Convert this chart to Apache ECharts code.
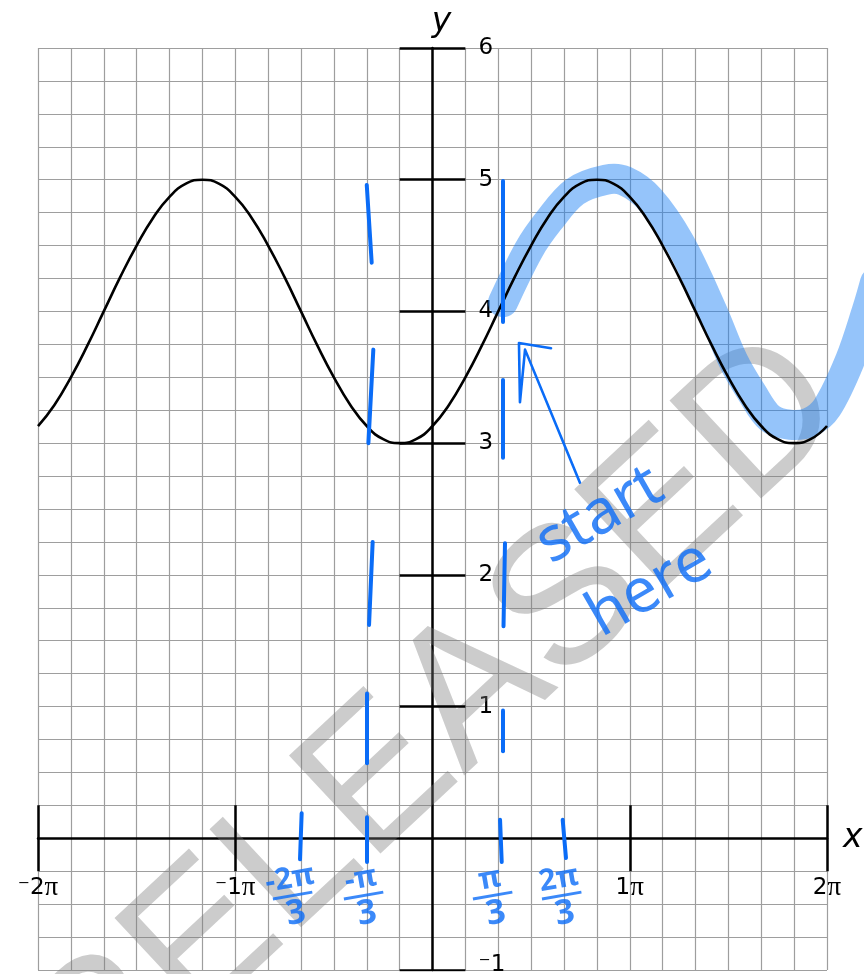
<!DOCTYPE html>
<html>
<head>
<meta charset="utf-8">
<script src="https://cdn.jsdelivr.net/npm/echarts@6/dist/echarts.min.js"></script>
<style>
  html, body { margin: 0; padding: 0; background: #ffffff; }
  #chart { width: 864px; height: 974px; }
</style>
</head>
<body>
<div id="chart"></div>
<script>
// Horizontal values are measured in twelfths of π (x = k·π/12).
const curveX = [-24,-23,-22,-21,-20,-19,-18,-17,-16,-15,-14,-13,-12,-11,-10,-9,-8,-7,-6,-5,-4,-3,-2,-1,
                0,1,2,3,4,5,6,7,8,9,10,11,12,13,14,15,16,17,18,19,20,21,22,23,24];
const curveY = [3.13,3.29,3.5,3.74,4,4.26,4.5,4.71,4.87,4.97,5,4.97,4.87,4.71,4.5,4.26,4,3.74,3.5,3.29,3.13,3.03,3,3.03,
                3.13,3.29,3.5,3.74,4,4.26,4.5,4.71,4.87,4.97,5,4.97,4.87,4.71,4.5,4.26,4,3.74,3.5,3.29,3.13,3.03,3,3.03,3.13];

// Hand-drawn highlighter stroke that traces one cycle from π/3 onward.
const highlightX = [4.29,5.87,7.09,8.67,10.55,11.71,13.23,15.05,17.0,18.28,19.44,20.53,21.75,22.96,24.0,25.4,26.43,26.92];
const highlightY = [4.07,4.47,4.69,4.91,5.0,4.99,4.85,4.52,4.01,3.63,3.38,3.19,3.14,3.16,3.27,3.63,4.01,4.22];

// Axis scale and tick marks.
const xMin = -24, xMax = 24, xStep = 2;          // grid every π/6
const yMin = -1, yMax = 6, yStep = 0.25;
const yTickValues = [-1, 1, 2, 3, 4, 5, 6];
const xTickValues = [-24, -12, 12, 24];
const xTickHalf = 2;      // half-length of y-axis ticks, in twelfths of π
const yTickHalf = 0.25;   // half-length of x-axis ticks, in y units

// Pen marks: short strokes down the lines x = ±π/3 and at ±2π/3 on the x-axis.
const penStrokes = [
  [[-4.0, 4.96], [-3.7, 4.37]],
  [[-3.6, 3.71], [-3.9, 3.0]],
  [[-3.64, 2.25], [-3.86, 1.62]],
  [[-3.98, 1.10], [-3.98, 0.57]],
  [[-3.99, 0.16], [-3.97, -0.18]],
  [[4.27, 4.99], [4.27, 3.92]],
  [[4.25, 3.48], [4.25, 2.89]],
  [[4.41, 2.24], [4.32, 1.61]],
  [[4.25, 0.97], [4.25, 0.66]],
  [[4.11, 0.14], [4.21, -0.18]],
  [[-7.96, 0.19], [-8.06, -0.16]],
  [[7.92, 0.14], [8.12, -0.15]]
];
const arrowPath = [[7.21, 3.72], [5.26, 3.76], [5.32, 3.31], [5.63, 3.71], [8.97, 2.70]];

// Handwritten fraction labels under the x-axis.
const fractionNumerators = ['-2π', '-π', 'π', '2π'];
const fractionX = [-8.49, -4.17, 3.68, 7.88];
const fractionY = -0.45;

// Handwritten note.
const noteWords = ['start', 'here'];
const noteX = [10.19, 13.23];
const noteY = [2.45, 1.89];

const PEN = '#0a6cf7';
const FONT = 'DejaVu Sans';

const zip = (xs, ys) => xs.map((x, i) => [x, ys[i]]);

const tickLines = [
  ...yTickValues.map(v => ({ coords: [[-xTickHalf, v], [xTickHalf, v]] })),
  ...xTickValues.map(v => ({ coords: [[v, -yTickHalf], [v, yTickHalf]] }))
];

const noteData = [
  ...fractionNumerators.map((n, i) => ({
    value: [fractionX[i], fractionY],
    label: {
      formatter: '{n|' + n + '}\n{b| }\n{d|3}',
      rotate: 10,
      rich: {
        n: { fontFamily: 'Noto Sans', fontWeight: 'bold', fontSize: 30, color: PEN, lineHeight: 28, align: 'center' },
        b: { width: 40, height: 3, lineHeight: 5, backgroundColor: PEN, align: 'center' },
        d: { fontFamily: 'Noto Sans', fontWeight: 'bold', fontSize: 34, color: PEN, lineHeight: 32, align: 'center' }
      }
    }
  })),
  ...noteWords.map((w, i) => ({
    value: [noteX[i], noteY[i]],
    label: {
      formatter: w,
      rotate: 30,
      fontFamily: 'Noto Sans',
      fontSize: 62,
      color: PEN
    }
  }))
];

const highlightPoints = zip(highlightX, highlightY);

const chart = echarts.init(document.getElementById('chart'), null, { renderer: 'canvas' });

chart.setOption({
  animation: false,
  backgroundColor: '#ffffff',
  grid: { left: 38, right: 37, top: 48, bottom: 4, containLabel: false, outerBoundsMode: 'none' },
  xAxis: {
    type: 'value',
    min: xMin, max: xMax, interval: xStep,
    name: 'x',
    nameLocation: 'end',
    nameGap: 16,
    nameTextStyle: { fontFamily: FONT, fontStyle: 'italic', fontSize: 33, color: '#000', padding: [0, 0, 6, 0] },
    axisLine: { show: true, onZero: false, lineStyle: { color: '#000', width: 2.5 } },
    axisTick: { show: false },
    splitLine: { show: true, lineStyle: { color: '#9e9e9e', width: 1.2 } },
    axisLabel: {
      show: true,
      interval: 0,
      showMinLabel: true,
      showMaxLabel: true,
      margin: 36,
      fontFamily: FONT,
      fontSize: 23,
      color: '#000',
      formatter: v => {
        if (v === 0 || v % 12 !== 0) return '';
        const n = v / 12;
        return (n < 0 ? '⁻' : '') + Math.abs(n) + '{p|π}';
      },
      rich: { p: { fontFamily: 'Liberation Serif', fontSize: 27, color: '#000' } }
    }
  },
  yAxis: {
    type: 'value',
    min: yMin, max: yMax, interval: yStep,
    name: 'y',
    nameLocation: 'end',
    nameGap: 9,
    nameTextStyle: { fontFamily: FONT, fontStyle: 'italic', fontSize: 33, color: '#000', padding: [0, 0, 0, 18] },
    axisLine: { show: true, onZero: false, lineStyle: { color: '#000', width: 2.5 } },
    axisTick: { show: false },
    splitLine: { show: true, lineStyle: { color: '#9e9e9e', width: 1.2 } },
    axisLabel: {
      show: true,
      inside: true,
      interval: 0,
      showMinLabel: true,
      showMaxLabel: true,
      margin: 46,
      fontFamily: FONT,
      fontSize: 23,
      color: '#000',
      formatter: v => {
        if (v === 0 || !Number.isInteger(v)) return '';
        return v < 0 ? '{m|⁻' + Math.abs(v) + '}' : String(v);
      },
      rich: { m: { fontFamily: FONT, fontSize: 23, color: '#000', padding: [0, 0, 10, 0] } }
    }
  },
  graphic: [{
    type: 'text',
    z: 1,
    x: 435, y: 729,
    rotation: 43 * Math.PI / 180,
    style: {
      text: 'RELEASED',
      fontFamily: 'Liberation Sans',
      fontSize: 195,
      fill: 'rgba(120,120,120,0.38)',
      textAlign: 'center',
      textVerticalAlign: 'middle'
    },
    silent: true
  }],
  series: [
    {
      name: 'highlight',
      type: 'custom',
      data: highlightPoints,
      z: 2,
      silent: true,
      clip: false,
      renderItem: (params, api) => {
        if (params.dataIndex !== 0) return null;
        return {
          type: 'polyline',
          shape: { points: highlightPoints.map(p => api.coord(p)), smooth: 0.35 },
          style: { stroke: 'rgba(30,130,245,0.47)', lineWidth: 30, lineCap: 'round', lineJoin: 'round', fill: null }
        };
      }
    },
    {
      name: 'y = 4 + sin(x − π/3)',
      type: 'line',
      data: zip(curveX, curveY),
      smooth: true,
      symbol: 'none',
      z: 3,
      lineStyle: { color: '#000', width: 2.6 },
      silent: true
    },
    {
      name: 'ticks',
      type: 'lines',
      coordinateSystem: 'cartesian2d',
      data: tickLines,
      z: 3,
      lineStyle: { color: '#000', width: 2.5, opacity: 1, curveness: 0 },
      silent: true
    },
    {
      name: 'pen',
      type: 'lines',
      coordinateSystem: 'cartesian2d',
      data: penStrokes.map(c => ({ coords: c })),
      z: 5,
      lineStyle: { color: PEN, width: 4, opacity: 1, cap: 'round', curveness: 0 },
      silent: true
    },
    {
      name: 'arrow',
      type: 'lines',
      coordinateSystem: 'cartesian2d',
      polyline: true,
      data: [{ coords: arrowPath }],
      z: 5,
      lineStyle: { color: PEN, width: 2.6, opacity: 1, cap: 'round', join: 'round' },
      silent: true
    },
    {
      name: 'notes',
      type: 'scatter',
      data: noteData,
      symbolSize: 0,
      z: 6,
      label: { show: true, position: 'inside' },
      silent: true
    }
  ]
});

// Move both axes (line, labels, name) so they cross at the origin.
const origin = chart.convertToPixel({ gridIndex: 0 }, [0, 0]);
const corner = chart.convertToPixel({ gridIndex: 0 }, [xMin, yMin]);
chart.setOption({
  xAxis: { offset: origin[1] - corner[1] },
  yAxis: { offset: corner[0] - origin[0] }
});
</script>
</body>
</html>
